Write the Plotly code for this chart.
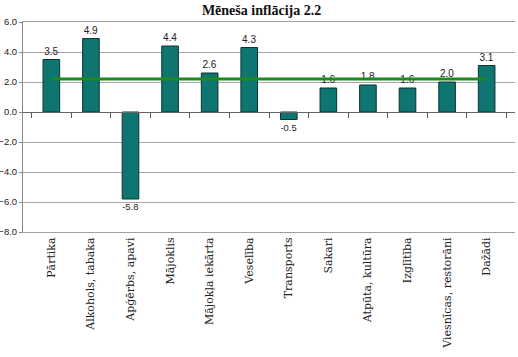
import plotly.graph_objects as go

categories = ["Pārtika", "Alkohols, tabaka", "Apģērbs, apavi", "Mājoklis",
              "Mājokļa iekārta", "Veselība", "Transports", "Sakari",
              "Atpūta, kultūra", "Izglītība", "Viesnīcas, restorāni", "Dažādi"]
values = [3.5, 4.9, -5.8, 4.4, 2.6, 4.3, -0.5, 1.6, 1.8, 1.6, 2.0, 3.1]
overall = 2.2
title = "Mēneša inflācija 2.2"
y_min, y_max = -8, 6

fig = go.Figure()
fig.add_trace(go.Bar(
    x=categories, y=values,
    marker=dict(color="#0e7571", line=dict(color="#0a3533", width=1)),
    text=[f"{v:.1f}" for v in values], textposition="outside",
    textfont=dict(family="Liberation Sans", size=10, color="#222"),
    cliponaxis=False, width=0.42, xaxis="x", yaxis="y",
))
fig.add_trace(go.Scatter(
    x=categories, y=[overall] * len(categories), mode="lines",
    line=dict(color="#1c8a1c", width=3), xaxis="x", yaxis="y",
))
fig.add_trace(go.Scatter(x=categories, y=[0] * len(categories), mode="markers",
                         marker=dict(opacity=0), xaxis="x2", yaxis="y",
                         showlegend=False, hoverinfo="skip"))

fig.update_layout(
    width=518, height=357,
    margin=dict(l=23, r=3, t=22, b=125, autoexpand=False),
    paper_bgcolor="white", plot_bgcolor="white",
    showlegend=False,
    title=dict(text=f"<b>{title}</b>", x=0.505, xanchor="center", y=0.972, yanchor="middle",
               font=dict(family="Liberation Serif", size=14, color="#111")),
    xaxis=dict(tickangle=-90, tickfont=dict(family="DejaVu Serif", size=11, color="#222"),
               showline=True, linecolor="#a0a0a0", linewidth=1, mirror=True,
               ticks="", showgrid=False, domain=[0, 1], automargin=False),
    xaxis2=dict(overlaying="x", anchor="free", position=(0 - y_min) / (y_max - y_min),
                matches="x", showticklabels=False, ticks="outside", tickson="boundaries",
                ticklen=5, tickcolor="#555", showline=True, linecolor="#666", linewidth=1,
                showgrid=False, automargin=False),
    yaxis=dict(range=[y_min, y_max], dtick=2, tickformat=".1f",
               tickfont=dict(family="Liberation Sans", size=9.5, color="#222"),
               showgrid=True, gridcolor="#a8a8a8", gridwidth=1, zeroline=False,
               showline=True, linecolor="#888", linewidth=1, ticks="outside",
               ticklen=3, tickcolor="#888", domain=[0, 1], automargin=False),
)
fig.write_html("out.html", config={"displayModeBar": False},
               post_script="document.body.style.margin='0';document.body.style.overflow='hidden';")
